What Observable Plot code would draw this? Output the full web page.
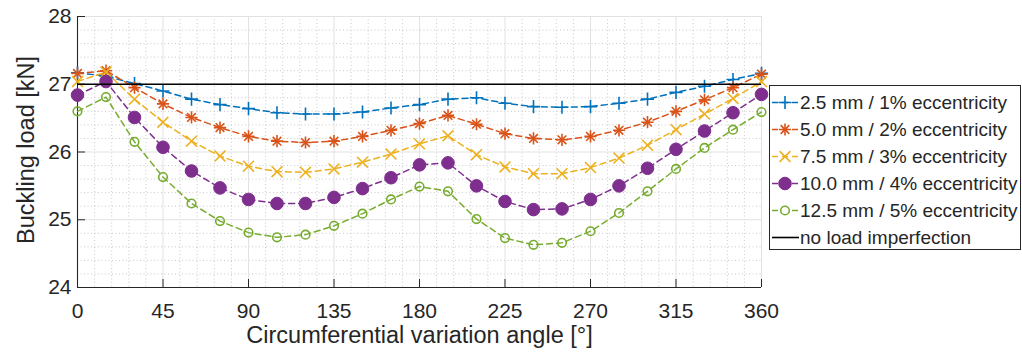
<!DOCTYPE html>
<html><head><meta charset="utf-8">
<script src="https://cdn.jsdelivr.net/npm/d3@7"></script>
<script src="https://cdn.jsdelivr.net/npm/@observablehq/plot@0.6"></script>
<style>
body{margin:0;background:#fff;}
#wrap{position:relative;width:1022px;height:352px;font-family:"Liberation Sans",Arial,Helvetica,sans-serif;color:#262626;}
#legend{position:absolute;left:769px;top:85px;width:252px;height:165px;border:1px solid #262626;background:#fff;box-sizing:border-box;}
.row{position:absolute;left:0;height:27px;display:flex;align-items:center;}
.row svg{display:block;margin-left:1px;}
.row span{position:absolute;left:30px;font-size:19px;white-space:nowrap;line-height:27px;top:0;}
</style></head><body><div id="wrap"></div>
<script>
// ---- data ----
const angles = [0,15,30,45,60,75,90,105,120,135,150,165,180,195,210,225,240,255,270,285,300,315,330,345,360];
const load25 = [27.17,27.12,27.01,26.90,26.78,26.70,26.64,26.58,26.56,26.56,26.59,26.65,26.70,26.78,26.80,26.72,26.67,26.66,26.67,26.72,26.78,26.88,26.97,27.07,27.16];
const load50 = [27.16,27.20,26.95,26.71,26.51,26.36,26.23,26.16,26.14,26.16,26.23,26.32,26.42,26.54,26.41,26.27,26.20,26.18,26.23,26.32,26.44,26.60,26.77,26.95,27.15];
const load75 = [27.04,27.18,26.78,26.44,26.16,25.94,25.79,25.71,25.70,25.75,25.85,25.97,26.12,26.24,25.96,25.78,25.68,25.68,25.77,25.91,26.10,26.33,26.56,26.79,27.04];
const load100 = [26.84,27.04,26.51,26.07,25.72,25.47,25.30,25.24,25.24,25.33,25.46,25.62,25.81,25.84,25.50,25.27,25.15,25.16,25.30,25.50,25.76,26.04,26.31,26.58,26.85];
const load125 = [26.60,26.81,26.15,25.63,25.24,24.98,24.81,24.74,24.78,24.91,25.09,25.30,25.49,25.42,25.01,24.73,24.63,24.66,24.83,25.10,25.42,25.75,26.06,26.33,26.59];
const noImperfection = 27;
const seriesNames = ["2.5 mm / 1% eccentricity","5.0 mm / 2% eccentricity","7.5 mm / 3% eccentricity","10.0 mm / 4% eccentricity","12.5 mm / 5% eccentricity"];
const refName = "no load imperfection";
const seriesColors = ["#0072BD","#D95319","#EDB120","#7E2F8E","#77AC30"];
const xTicks = [0,45,90,135,180,225,270,315,360];
const yTicks = [24,25,26,27,28];
const xLabel = "Circumferential variation angle [°]";
const yLabel = "Buckling load [kN]";

// ---- build ----
const allSeries = [load25, load50, load75, load100, load125];
const rows = [];
allSeries.forEach((vals, s) => vals.forEach((v, i) => rows.push({angle: angles[i], load: v, s})));
const bySeries = s => rows.filter(d => d.s === s);

const xMinor = d3.range(0, 361, 9).filter(v => v % 45 !== 0);
const yMinor = d3.range(24, 28.001, 0.2).map(v => +v.toFixed(1)).filter(v => Math.abs(v - Math.round(v)) > 1e-6);

const W = 1022, H = 352, mL = 77, mR = 261, mT = 16, mB = 65;
const frameW = W - mL - mR, frameH = H - mT - mB;
const dash = "6,4";
const ink = "#262626";

// markers per series: [symbol, r, fill, strokeWidth]
const markerSpecs = [
  [["plus", 4.3, "none", 1.6]],
  [["plus", 4.0, "none", 1.6], ["times", 4.0, "none", 1.6]],
  [["times", 5.0, "none", 1.6]],
  [["circle", 6.3, "fill", 1]],
  [["circle", 4.3, "none", 1.6]]
];

const marks = [
  Plot.gridX(xMinor, {stroke: "#bdbdbd", strokeOpacity: 1, strokeDasharray: "1,2.5", strokeWidth: 0.8}),
  Plot.gridY(yMinor, {stroke: "#bdbdbd", strokeOpacity: 1, strokeDasharray: "1,2.5", strokeWidth: 0.8}),
  Plot.gridX(xTicks, {stroke: "#e2e2e2", strokeOpacity: 1, strokeWidth: 1}),
  Plot.gridY(yTicks, {stroke: "#e2e2e2", strokeOpacity: 1, strokeWidth: 1}),
  Plot.ruleY([24], {stroke: ink, strokeWidth: 1.1}),
  Plot.ruleX([0], {stroke: ink, strokeWidth: 1.1}),
  Plot.ruleX(xTicks, {stroke: ink, insetTop: frameH - 8}),
  Plot.ruleY(yTicks, {stroke: ink, insetRight: frameW - 8}),
  Plot.axisX({ticks: xTicks, tickSize: 0, tickPadding: 16, fontSize: 21, fill: ink, label: null, tickFormat: d => String(d)}),
  Plot.axisY({ticks: yTicks, tickSize: 0, tickPadding: 6, fontSize: 21, fill: ink, label: null, tickFormat: d => String(d)}),
  Plot.text([xLabel], {text: d => d, frameAnchor: "bottom", textAnchor: "middle", lineAnchor: "middle", dy: 47.5, fontSize: 23.5, fill: ink}),
  Plot.text([yLabel], {text: d => d, frameAnchor: "left", textAnchor: "middle", lineAnchor: "middle", rotate: -90, dx: -51.5, dy: -2, fontSize: 23.5, fill: ink})
];
allSeries.forEach((_, s) => {
  const c = seriesColors[s];
  marks.push(Plot.line(bySeries(s), {x: "angle", y: "load", stroke: c, strokeWidth: 1.5, strokeDasharray: dash}));
  markerSpecs[s].forEach(([sym, r, fill, sw]) => {
    marks.push(Plot.dot(bySeries(s), {x: "angle", y: "load", symbol: sym, r, stroke: c, strokeWidth: sw, fill: fill === "fill" ? c : "none"}));
  });
});
marks.push(Plot.ruleY([noImperfection], {x1: 0, x2: 360, stroke: "#000", strokeWidth: 1.6}));

const chart = Plot.plot({
  width: W, height: H,
  marginLeft: mL, marginRight: mR, marginTop: mT, marginBottom: mB,
  x: {domain: [0, 360]},
  y: {domain: [24, 28]},
  style: {fontFamily: '"Liberation Sans", Arial, Helvetica, sans-serif', background: "white", color: ink, overflow: "visible"},
  marks
});
const wrap = document.getElementById("wrap");
wrap.appendChild(chart);

// ---- legend ----
const legend = document.createElement("div");
legend.id = "legend";
wrap.appendChild(legend);
const symMap = {plus: d3.symbolPlus, times: d3.symbolTimes, circle: d3.symbolCircle};
const entries = seriesNames.map((n, s) => ({name: n, color: seriesColors[s], markers: markerSpecs[s], dashed: true}));
entries.push({name: refName, color: "#000", markers: [], dashed: false});
entries.forEach((e, k) => {
  const row = document.createElement("div");
  row.className = "row";
  row.style.top = (3 + k * 27) + "px";
  let svg = `<svg width="28" height="27" viewBox="0 0 28 27">`;
  svg += `<line x1="1" x2="28" y1="13.5" y2="13.5" stroke="${e.color}" stroke-width="${e.dashed ? 1.5 : 1.6}" ${e.dashed ? 'stroke-dasharray="6,4"' : ''}/>`;
  e.markers.forEach(([sym, r, fill, sw]) => {
    if (sym === "circle") {
      svg += `<circle cx="14" cy="13.5" r="${r}" fill="${fill === "fill" ? e.color : "white"}" stroke="${e.color}" stroke-width="${sw}"/>`;
    } else {
      const p = d3.symbol(symMap[sym], Math.PI * r * r)();
      svg += `<path transform="translate(14,13.5)" d="${p}" fill="none" stroke="${e.color}" stroke-width="${sw}"/>`;
    }
  });
  svg += `</svg>`;
  row.innerHTML = svg + `<span>${e.name}</span>`;
  legend.appendChild(row);
});
</script>
</body></html>
